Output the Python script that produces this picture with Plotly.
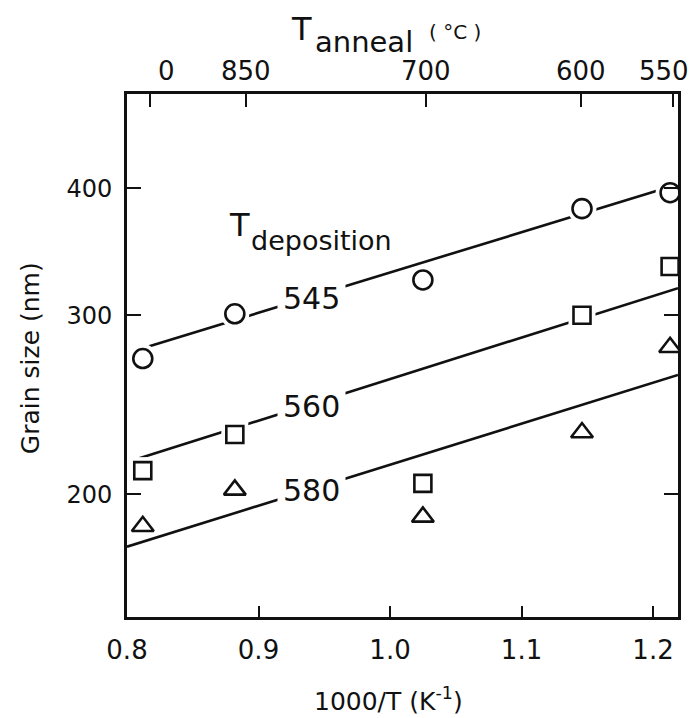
import math
import plotly.graph_objects as go

# Reciprocal anneal temperature (1000/T, K^-1) of each sample column
inv_T = [0.812, 0.882, 1.025, 1.146, 1.213]

# Grain size (nm) for the three deposition temperatures
grain_545 = [272, 301, 325, 382, 396]
grain_560 = [211, 229, 205, 300, 335]
grain_580 = [186, 202, 190, 230, 279]

# Trend lines (end points)
fit_545_x = [0.812, 1.213]
fit_545_y = [278.4, 401.4]
fit_560_x = [0.8094, 1.219]
fit_560_y = [217.0, 319.0]
fit_580_x = [0.8, 1.219]
fit_580_y = [177.6, 262.1]

# Axis ticks
x_ticks = [0.8, 0.9, 1.0, 1.1, 1.2]
x_ticktext = ["0.8", "0.9", "1.0", "1.1", "1.2"]
y_ticks = [200, 300, 400]
anneal_C = [950, 850, 700, 600, 550]
anneal_text = ["0", "850", "700", "600", "550"]

# Deposition temperature labels placed on the trend lines
dep_labels = ["545", "560", "580"]
dep_label_x = 0.9406
dep_label_y = [311.8, 244.1, 201.5]

FONT = "DejaVu Sans"
INK = "#111111"

anneal_ticks = [1000.0 / (t + 273.15) for t in anneal_C]
# top labels sit on their ticks, except the two end ones which are nudged inward
anneal_label_x = list(anneal_ticks)
anneal_label_x[0] = 0.8297
anneal_label_x[-1] = 1.2085

fig = go.Figure()

# trend lines
for fx, fy in [(fit_545_x, fit_545_y), (fit_560_x, fit_560_y), (fit_580_x, fit_580_y)]:
    fig.add_trace(go.Scatter(x=fx, y=fy, mode="lines",
                             line=dict(color=INK, width=2.6),
                             hoverinfo="skip", showlegend=False))

# white halos so the lines break around the open symbols
for ys, sym, sz in [(grain_545, "circle", 29), (grain_560, "square", 27)]:
    fig.add_trace(go.Scatter(x=inv_T, y=ys, mode="markers",
                             marker=dict(symbol=sym, size=sz, color="white",
                                         line=dict(width=0)),
                             hoverinfo="skip", showlegend=False))

# data points
for ys, sym, sz, name in [(grain_545, "circle", 19, "545"),
                          (grain_560, "square", 17, "560"),
                          (grain_580, "triangle-up", 19, "580")]:
    fig.add_trace(go.Scatter(x=inv_T, y=ys, mode="markers", name=name,
                             marker=dict(symbol=sym, size=sz, color="white",
                                         line=dict(color=INK, width=2.6)),
                             showlegend=False))

# invisible trace to activate the top (anneal temperature) axis
fig.add_trace(go.Scatter(x=[0.8, 1.219], y=[300, 300], xaxis="x2", mode="lines",
                         line=dict(width=0), hoverinfo="skip", showlegend=False))

annotations = []
for txt, ly in zip(dep_labels, dep_label_y):
    annotations.append(dict(x=dep_label_x, y=math.log10(ly), xref="x", yref="y",
                            text=txt, showarrow=False, bgcolor="white", borderpad=5,
                            font=dict(family=FONT, size=30, color=INK),
                            xanchor="center", yanchor="middle"))

# "T deposition" heading
annotations.append(dict(x=0.2033, y=0.7495, xref="paper", yref="paper", text="T",
                        showarrow=False, font=dict(family=FONT, size=32, color=INK),
                        xanchor="center", yanchor="middle"))
annotations.append(dict(x=0.3521, y=0.7208, xref="paper", yref="paper", text="deposition",
                        showarrow=False, font=dict(family=FONT, size=27, color=INK),
                        xanchor="center", yanchor="middle"))

# top axis title "T anneal (°C)"
annotations.append(dict(x=0.3158, y=1.1252, xref="paper", yref="paper", text="T",
                        showarrow=False, font=dict(family=FONT, size=32, color=INK),
                        xanchor="center", yanchor="middle"))
annotations.append(dict(x=0.4310, y=1.0994, xref="paper", yref="paper", text="anneal",
                        showarrow=False, font=dict(family=FONT, size=29, color=INK),
                        xanchor="center", yanchor="middle"))
annotations.append(dict(x=0.5953, y=1.1185, xref="paper", yref="paper", text="( °C )",
                        showarrow=False, font=dict(family=FONT, size=20, color=INK),
                        xanchor="center", yanchor="middle"))

# top axis tick labels
for txt, lx in zip(anneal_text, anneal_label_x):
    annotations.append(dict(x=lx, y=1.0, xref="x", yref="paper", text=txt,
                            showarrow=False, font=dict(family=FONT, size=26, color=INK),
                            xanchor="center", yanchor="bottom", yshift=6))

# axis titles
annotations.append(dict(x=0.4737, y=-0.158, xref="paper", yref="paper",
                        text="1000/T (K<sup>-1</sup>)", showarrow=False,
                        font=dict(family=FONT, size=25, color=INK),
                        xanchor="center", yanchor="middle"))
annotations.append(dict(x=-0.176, y=0.495, xref="paper", yref="paper",
                        text="Grain size (nm)", textangle=-90, showarrow=False,
                        font=dict(family=FONT, size=25, color=INK),
                        xanchor="center", yanchor="middle"))

fig.update_layout(
    width=691, height=718,
    margin=dict(l=127, r=13, t=94, b=101, autoexpand=False),
    paper_bgcolor="white", plot_bgcolor="white",
    font=dict(family=FONT, color=INK),
    showlegend=False,
    annotations=annotations,
    xaxis=dict(range=[0.8, 1.219], tickvals=x_ticks, ticktext=x_ticktext,
               ticks="inside", ticklen=11, tickwidth=2, tickcolor=INK,
               showline=True, linewidth=3, linecolor=INK,
               showgrid=False, zeroline=False, ticklabelstandoff=8,
               ticklabeloverflow="allow", automargin=False,
               tickfont=dict(family=FONT, size=26, color=INK)),
    xaxis2=dict(range=[0.8, 1.219], overlaying="x", side="top",
                tickvals=anneal_ticks, showticklabels=False,
                ticks="inside", ticklen=13, tickwidth=2, tickcolor=INK,
                showline=True, linewidth=3, linecolor=INK,
                showgrid=False, zeroline=False, automargin=False),
    yaxis=dict(type="log", range=[2.1803, 2.6948], tickvals=y_ticks,
               ticktext=[str(v) for v in y_ticks],
               ticks="inside", ticklen=14, tickwidth=2, tickcolor=INK,
               showline=True, linewidth=3, linecolor=INK, mirror="ticks",
               showgrid=False, zeroline=False, ticklabelstandoff=7,
               automargin=False,
               tickfont=dict(family=FONT, size=24, color=INK)),
)

fig.write_html("out.html")
